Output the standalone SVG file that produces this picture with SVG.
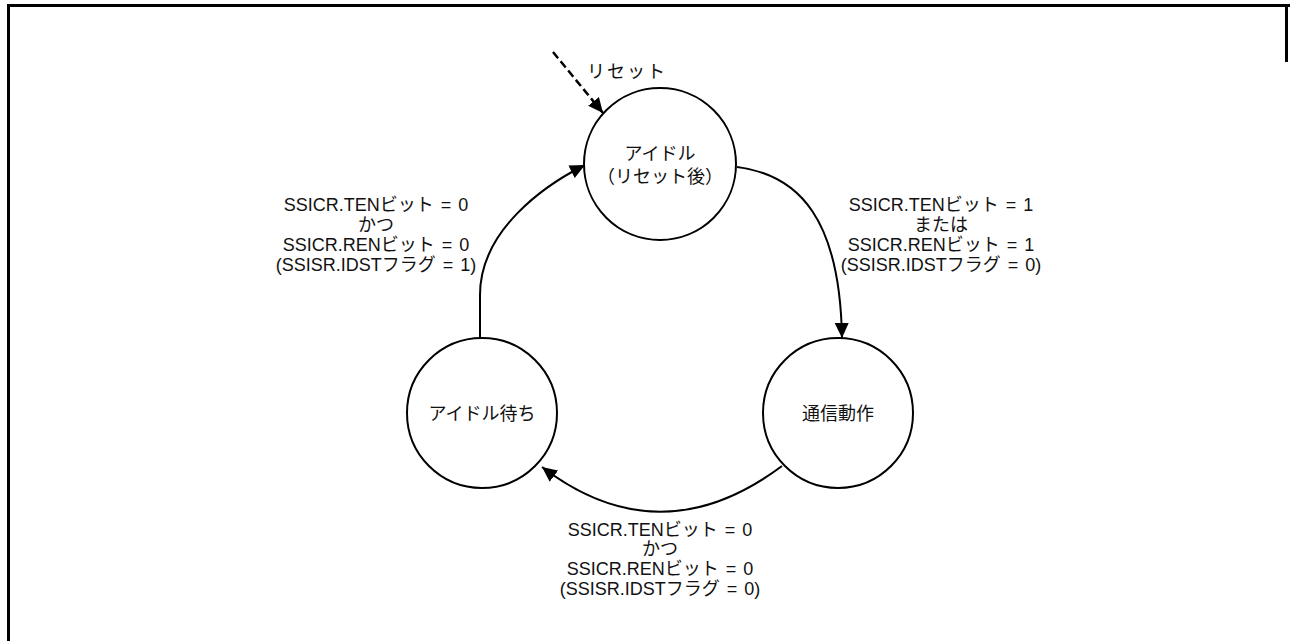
<svg xmlns="http://www.w3.org/2000/svg" width="1290" height="641" viewBox="0 0 1290 641">
<style>
.frame{fill:none;stroke:#000;stroke-width:3}
.st{fill:#fff;stroke:#000;stroke-width:2}
.t{font-family:"Liberation Sans","Noto Sans CJK JP",sans-serif;font-size:18px;fill:#111;text-anchor:middle}
.l{word-spacing:2px}
.c{fill:none;stroke:#000;stroke-width:2}
.d{fill:none;stroke:#000;stroke-width:2.5;stroke-dasharray:8,4}
</style>
<defs>
<marker id="ah" markerUnits="userSpaceOnUse" markerWidth="16" markerHeight="14" refX="15" refY="7" orient="auto">
<path d="M0,0 L15,7 L0,14 Z" fill="#000"/>
</marker>
</defs>
<rect width="1290" height="641" fill="#fff"/>
<path class="frame" d="M8.5,641 L8.5,5.5 L1290,5.5"/>
<path class="frame" d="M1286.5,5.5 L1286.5,62"/>
<g id="connectors">
<path class="d" d="M553,52 L603,113" marker-end="url(#ah)"/>
<path class="c" d="M737,167 C800,175 840,220 842,338" marker-end="url(#ah)"/>
<path class="c" d="M782,466 Q660,557 542,467" marker-end="url(#ah)"/>
<path class="c" d="M480,338 L480,295 C480,230 545,185 585,165" marker-end="url(#ah)"/>
</g>
<g id="idle">
<circle class="st" cx="660" cy="164" r="76"/>
<text class="t" x="660" y="160">アイドル</text>
<text class="t" x="660" y="183">（リセット後）</text>
</g>
<g id="comm">
<circle class="st" cx="838" cy="413" r="75"/>
<text class="t" x="838" y="420">通信動作</text>
</g>
<g id="wait">
<circle class="st" cx="482" cy="413" r="75"/>
<text class="t" x="482" y="420">アイドル待ち</text>
</g>
<g id="labels">
<text class="t" x="627" y="78" style="letter-spacing:2px">リセット</text>
<text class="t l" x="376"><tspan x="376" y="211">SSICR.TENビット = 0</tspan><tspan x="376" y="231">かつ</tspan><tspan x="376" y="251">SSICR.RENビット = 0</tspan><tspan x="376" y="271">(SSISR.IDSTフラグ = 1)</tspan></text>
<text class="t l" x="941"><tspan x="941" y="211">SSICR.TENビット = 1</tspan><tspan x="941" y="231">または</tspan><tspan x="941" y="251">SSICR.RENビット = 1</tspan><tspan x="941" y="271">(SSISR.IDSTフラグ = 0)</tspan></text>
<text class="t l" x="660"><tspan x="660" y="536">SSICR.TENビット = 0</tspan><tspan x="660" y="555">かつ</tspan><tspan x="660" y="575">SSICR.RENビット = 0</tspan><tspan x="660" y="595">(SSISR.IDSTフラグ = 0)</tspan></text>
</g>
</svg>
